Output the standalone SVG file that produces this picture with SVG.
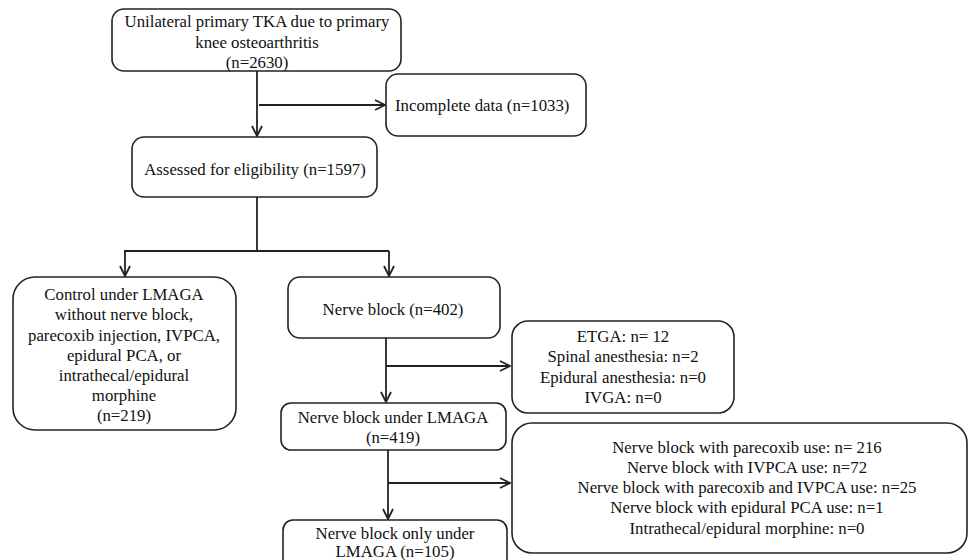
<svg xmlns="http://www.w3.org/2000/svg" width="969" height="560" viewBox="0 0 969 560">
<style>
.b{fill:#fff;stroke:#222;stroke-width:1.6}
.t{font-family:"Liberation Serif","Times New Roman",serif;font-size:16.8px;fill:#111;text-anchor:middle}
.c{fill:none;stroke:#222;stroke-width:1.8}
</style>
<defs>
<marker id="a" viewBox="0 0 12 12" refX="11" refY="6" markerWidth="12" markerHeight="12" markerUnits="userSpaceOnUse" orient="auto">
<path d="M1,1 L11,6 L1,11" fill="none" stroke="#222" stroke-width="1.8"/>
</marker>
</defs>
<rect width="969" height="560" fill="#fff"/>
<g id="connectors">
<path class="c" d="M257,71 V136" marker-end="url(#a)"/>
<path class="c" d="M259,105 H385" marker-end="url(#a)"/>
<path class="c" d="M257,197 V251"/>
<path class="c" d="M124,251 H389"/>
<path class="c" d="M125,251 V276" marker-end="url(#a)"/>
<path class="c" d="M389,251 V276" marker-end="url(#a)"/>
<path class="c" d="M386,338 V402" marker-end="url(#a)"/>
<path class="c" d="M386,366 H510" marker-end="url(#a)"/>
<path class="c" d="M388,450 V519" marker-end="url(#a)"/>
<path class="c" d="M388,483 H510" marker-end="url(#a)"/>
</g>
<g id="n1"><rect class="b" x="112" y="9" width="289" height="62" rx="12"/>
<text class="t" x="257" y="27">Unilateral primary TKA due to primary</text>
<text class="t" x="257" y="48">knee osteoarthritis</text>
<text class="t" x="257" y="68">(n=2630)</text></g>
<g id="n2"><rect class="b" x="386" y="74" width="200" height="62" rx="12"/>
<text class="t" x="395" y="111" style="text-anchor:start">Incomplete data (n=1033)</text></g>
<g id="n3"><rect class="b" x="132" y="137" width="245" height="60" rx="12"/>
<text class="t" x="255" y="175">Assessed for eligibility (n=1597)</text></g>
<g id="n4"><rect class="b" x="13" y="277" width="223" height="153" rx="22"/>
<text class="t" x="124" y="300">Control under LMAGA</text>
<text class="t" x="124" y="320">without nerve block,</text>
<text class="t" x="124" y="341">parecoxib injection, IVPCA,</text>
<text class="t" x="124" y="361">epidural PCA, or</text>
<text class="t" x="124" y="381">intrathecal/epidural</text>
<text class="t" x="124" y="401">morphine</text>
<text class="t" x="124" y="421">(n=219)</text></g>
<g id="n5"><rect class="b" x="288" y="277" width="212" height="61" rx="12"/>
<text class="t" x="393" y="315">Nerve block (n=402)</text></g>
<g id="n6"><rect class="b" x="512" y="321" width="222" height="92" rx="16"/>
<text class="t" x="623" y="342">ETGA: n= 12</text>
<text class="t" x="623" y="362">Spinal anesthesia: n=2</text>
<text class="t" x="623" y="383">Epidural anesthesia: n=0</text>
<text class="t" x="623" y="403">IVGA: n=0</text></g>
<g id="n7"><rect class="b" x="281" y="403" width="225" height="47" rx="10"/>
<text class="t" x="393" y="423">Nerve block under LMAGA</text>
<text class="t" x="393" y="443">(n=419)</text></g>
<g id="n8"><rect class="b" x="512" y="423" width="455" height="130" rx="20"/>
<text class="t" x="747" y="453">Nerve block with parecoxib use: n= 216</text>
<text class="t" x="747" y="473">Nerve block with IVPCA use: n=72</text>
<text class="t" x="747" y="493">Nerve block with parecoxib and IVPCA use: n=25</text>
<text class="t" x="747" y="513">Nerve block with epidural PCA use: n=1</text>
<text class="t" x="747" y="534">Intrathecal/epidural morphine: n=0</text></g>
<g id="n9"><rect class="b" x="283" y="520" width="224" height="60" rx="10"/>
<text class="t" x="395" y="539">Nerve block only under</text>
<text class="t" x="395" y="557">LMAGA (n=105)</text></g>
</svg>
